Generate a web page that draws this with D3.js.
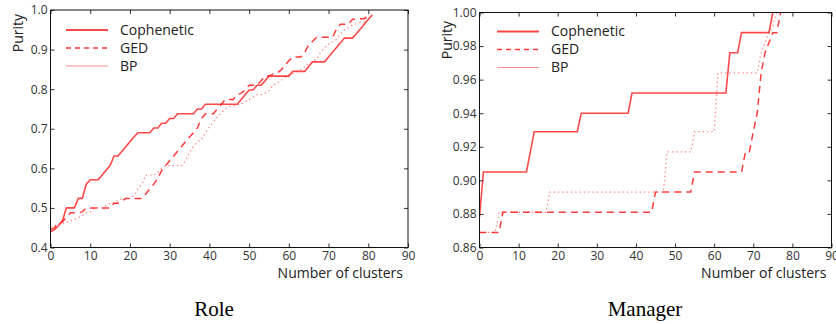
<!DOCTYPE html>
<html>
<head>
<meta charset="utf-8">
<script src="https://cdn.jsdelivr.net/npm/d3@7"></script>
<style>
  body { margin: 0; background: #fff; }
  svg { display: block; }
  .tick text { font-family: "Open Sans", sans-serif; font-size: 12px; fill: #333; }
  .tick line { stroke: #333; }
  .lbl { font-family: "Open Sans", sans-serif; font-size: 14px; fill: #222; }
  .cap { font-family: "Liberation Serif", "Times New Roman", serif; font-size: 21px; fill: #000; }
</style>
</head>
<body>
<svg id="chart" width="836" height="324"></svg>
<script>
const svg = d3.select("#chart");

// datos
const series = ["Cophenetic", "GED", "BP"];
const xTicks = [0, 10, 20, 30, 40, 50, 60, 70, 80, 90];
const roleTicks = [0.4, 0.5, 0.6, 0.7, 0.8, 0.9, 1.0];
const managerTicks = [0.86, 0.88, 0.90, 0.92, 0.94, 0.96, 0.98, 1.00];

// Role: un valor por numero de clusters (0, 1, 2, ...)
const roleCophenetic = [
  0.440, 0.445, 0.455, 0.467, 0.500, 0.500, 0.500, 0.524, 0.524, 0.560,
  0.571, 0.571, 0.571, 0.583, 0.595, 0.607, 0.631, 0.631, 0.643, 0.655,
  0.667, 0.679, 0.690, 0.690, 0.690, 0.690, 0.702, 0.702, 0.714, 0.714,
  0.726, 0.726, 0.738, 0.738, 0.738, 0.738, 0.738, 0.750, 0.750, 0.762,
  0.762, 0.762, 0.762, 0.762, 0.762, 0.762, 0.762, 0.762, 0.774, 0.786,
  0.798, 0.798, 0.810, 0.810, 0.821, 0.833, 0.833, 0.833, 0.833, 0.833,
  0.833, 0.845, 0.845, 0.845, 0.845, 0.857, 0.869, 0.869, 0.869, 0.869,
  0.881, 0.893, 0.905, 0.917, 0.929, 0.929, 0.929, 0.940, 0.952, 0.964,
  0.976, 0.988
];
const roleGED = [
  0.445, 0.450, 0.460, 0.465, 0.476, 0.488, 0.488, 0.488, 0.490, 0.500,
  0.500, 0.500, 0.500, 0.500, 0.500, 0.500, 0.512, 0.512, 0.518, 0.524,
  0.524, 0.524, 0.524, 0.524, 0.536, 0.548, 0.560, 0.575, 0.595, 0.607,
  0.619, 0.631, 0.643, 0.655, 0.667, 0.679, 0.690, 0.702, 0.726, 0.738,
  0.738, 0.738, 0.750, 0.762, 0.774, 0.774, 0.774, 0.786, 0.790, 0.798,
  0.810, 0.810, 0.810, 0.821, 0.833, 0.833, 0.838, 0.840, 0.848, 0.860,
  0.872, 0.881, 0.881, 0.881, 0.893, 0.912, 0.921, 0.931, 0.931, 0.931,
  0.931, 0.931, 0.952, 0.964, 0.964, 0.964, 0.976, 0.978, 0.978, 0.978,
  0.990
];
const roleBP = [
  0.452, 0.455, 0.460, 0.460, 0.464, 0.466, 0.470, 0.476, 0.480, 0.488,
  0.490, 0.500, 0.500, 0.500, 0.506, 0.512, 0.512, 0.518, 0.524, 0.524,
  0.524, 0.530, 0.548, 0.560, 0.583, 0.583, 0.583, 0.590, 0.600, 0.607,
  0.607, 0.607, 0.607, 0.607, 0.619, 0.640, 0.655, 0.667, 0.672, 0.690,
  0.705, 0.717, 0.730, 0.740, 0.750, 0.756, 0.758, 0.760, 0.762, 0.768,
  0.774, 0.780, 0.786, 0.786, 0.790, 0.796, 0.810, 0.815, 0.821, 0.830,
  0.836, 0.840, 0.845, 0.850, 0.857, 0.865, 0.869, 0.876, 0.893, 0.905,
  0.914, 0.919, 0.926, 0.940, 0.950, 0.955, 0.962, 0.965, 0.968, 0.970,
  0.988
];

// Manager: pares [clusters, purity]
const managerCophenetic = [
  [0, 0.878], [1, 0.905], [12, 0.905], [14, 0.929], [25, 0.929], [26, 0.940],
  [38, 0.940], [39, 0.952], [63, 0.952], [64, 0.976], [66, 0.976], [67, 0.988],
  [74, 0.988], [75, 1.000]
];
const managerGED = [
  [0, 0.869], [5, 0.869], [6, 0.881], [44, 0.881], [45, 0.893], [54, 0.893],
  [55, 0.905], [67, 0.905], [68, 0.917], [69, 0.917], [70, 0.929], [71, 0.940],
  [72, 0.964], [73, 0.976], [74, 0.982], [75, 0.988], [76, 0.988], [77, 1.000]
];
const managerBP = [
  [0, 0.869], [4, 0.869], [5, 0.881], [17, 0.881], [18, 0.893], [47, 0.893],
  [48, 0.917], [54, 0.917], [55, 0.929], [60, 0.929], [61, 0.964], [71, 0.964],
  [72, 0.976], [73, 0.982], [74, 0.988], [75, 0.992], [76, 1.000]
];

const estilos = {
  Cophenetic: { width: 1.6, dash: null, opacity: 0.8, legendWidth: 2, legendDash: null, legendOpacity: 0.8 },
  GED: { width: 1.5, dash: "7,5", opacity: 0.85, legendWidth: 1.5, legendDash: "5,4", legendOpacity: 0.85 },
  BP: { width: 1.3, dash: "1.3,3", opacity: 0.55, legendWidth: 1, legendDash: null, legendOpacity: 0.5 }
};
const ROJO = "#ff1a1a";

const paneles = [
  {
    left: 50.5, right: 408, top: 10, bottom: 247.5,
    yDomain: [0.4, 1.0], yTicks: roleTicks, yFormat: ".1f",
    datos: {
      Cophenetic: roleCophenetic.map((v, i) => [i, v]),
      GED: roleGED.map((v, i) => [i, v]),
      BP: roleBP.map((v, i) => [i, v])
    },
    legendX: 66, legendY: 30,
    caption: "Role", captionX: 214,
    purityY: 33
  },
  {
    left: 479.5, right: 831.5, top: 12.5, bottom: 247.5,
    yDomain: [0.86, 1.0], yTicks: managerTicks, yFormat: ".2f",
    datos: { Cophenetic: managerCophenetic, GED: managerGED, BP: managerBP },
    legendX: 497, legendY: 31.5,
    caption: "Manager", captionX: 645,
    purityY: 40
  }
];

function dibujarPanel(p, idx) {
  const x = d3.scaleLinear().domain([0, 90]).range([p.left, p.right]);
  const y = d3.scaleLinear().domain(p.yDomain).range([p.bottom, p.top]);
  const g = svg.append("g");

  const clipId = "clip" + idx;
  svg.append("clipPath").attr("id", clipId)
    .append("rect")
    .attr("x", p.left).attr("y", p.top - 1)
    .attr("width", p.right - p.left).attr("height", p.bottom - p.top + 1);

  const linea = d3.line().x(d => x(d[0])).y(d => y(d[1]));

  series.forEach(s => {
    const e = estilos[s];
    g.append("path")
      .datum(p.datos[s])
      .attr("clip-path", `url(#${clipId})`)
      .attr("fill", "none")
      .attr("stroke", ROJO)
      .attr("stroke-opacity", e.opacity)
      .attr("stroke-width", e.width)
      .attr("stroke-dasharray", e.dash)
      .attr("d", linea);
  });

  // ejes con ticks hacia dentro en los cuatro lados
  g.append("g")
    .attr("transform", `translate(0,${p.bottom})`)
    .call(d3.axisBottom(x).tickValues(xTicks).tickSize(-4).tickPadding(4))
    .call(a => a.select(".domain").remove());
  g.append("g")
    .attr("transform", `translate(0,${p.top})`)
    .call(d3.axisTop(x).tickValues(xTicks).tickSize(-4).tickFormat(""))
    .call(a => a.select(".domain").remove());
  g.append("g")
    .attr("transform", `translate(${p.left},0)`)
    .call(d3.axisLeft(y).tickValues(p.yTicks).tickSize(-4).tickPadding(3).tickFormat(d3.format(p.yFormat)))
    .call(a => a.select(".domain").remove());
  g.append("g")
    .attr("transform", `translate(${p.right},0)`)
    .call(d3.axisRight(y).tickValues(p.yTicks).tickSize(-4).tickFormat(""))
    .call(a => a.select(".domain").remove());

  g.append("rect")
    .attr("x", p.left).attr("y", p.top)
    .attr("width", p.right - p.left).attr("height", p.bottom - p.top)
    .attr("fill", "none").attr("stroke", "#111").attr("stroke-width", 1);

  // leyenda
  series.forEach((s, i) => {
    const e = estilos[s];
    const ly = p.legendY + i * 18;
    g.append("line")
      .attr("x1", p.legendX).attr("x2", p.legendX + 42)
      .attr("y1", ly).attr("y2", ly)
      .attr("stroke", ROJO)
      .attr("stroke-opacity", e.legendOpacity)
      .attr("stroke-width", e.legendWidth)
      .attr("stroke-dasharray", e.legendDash);
    g.append("text")
      .attr("class", "lbl")
      .attr("x", p.legendX + 54).attr("y", ly)
      .attr("dy", "0.35em")
      .text(s);
  });

  g.append("text")
    .attr("class", "lbl")
    .attr("transform", `translate(${p.left - 28},${p.purityY}) rotate(-90)`)
    .attr("text-anchor", "middle")
    .text("Purity");

  g.append("text")
    .attr("class", "lbl")
    .attr("x", p.right - 5).attr("y", 278)
    .attr("text-anchor", "end")
    .text("Number of clusters");

  g.append("text")
    .attr("class", "cap")
    .attr("x", p.captionX).attr("y", 316)
    .attr("text-anchor", "middle")
    .text(p.caption);
}

paneles.forEach(dibujarPanel);
</script>
</body>
</html>
